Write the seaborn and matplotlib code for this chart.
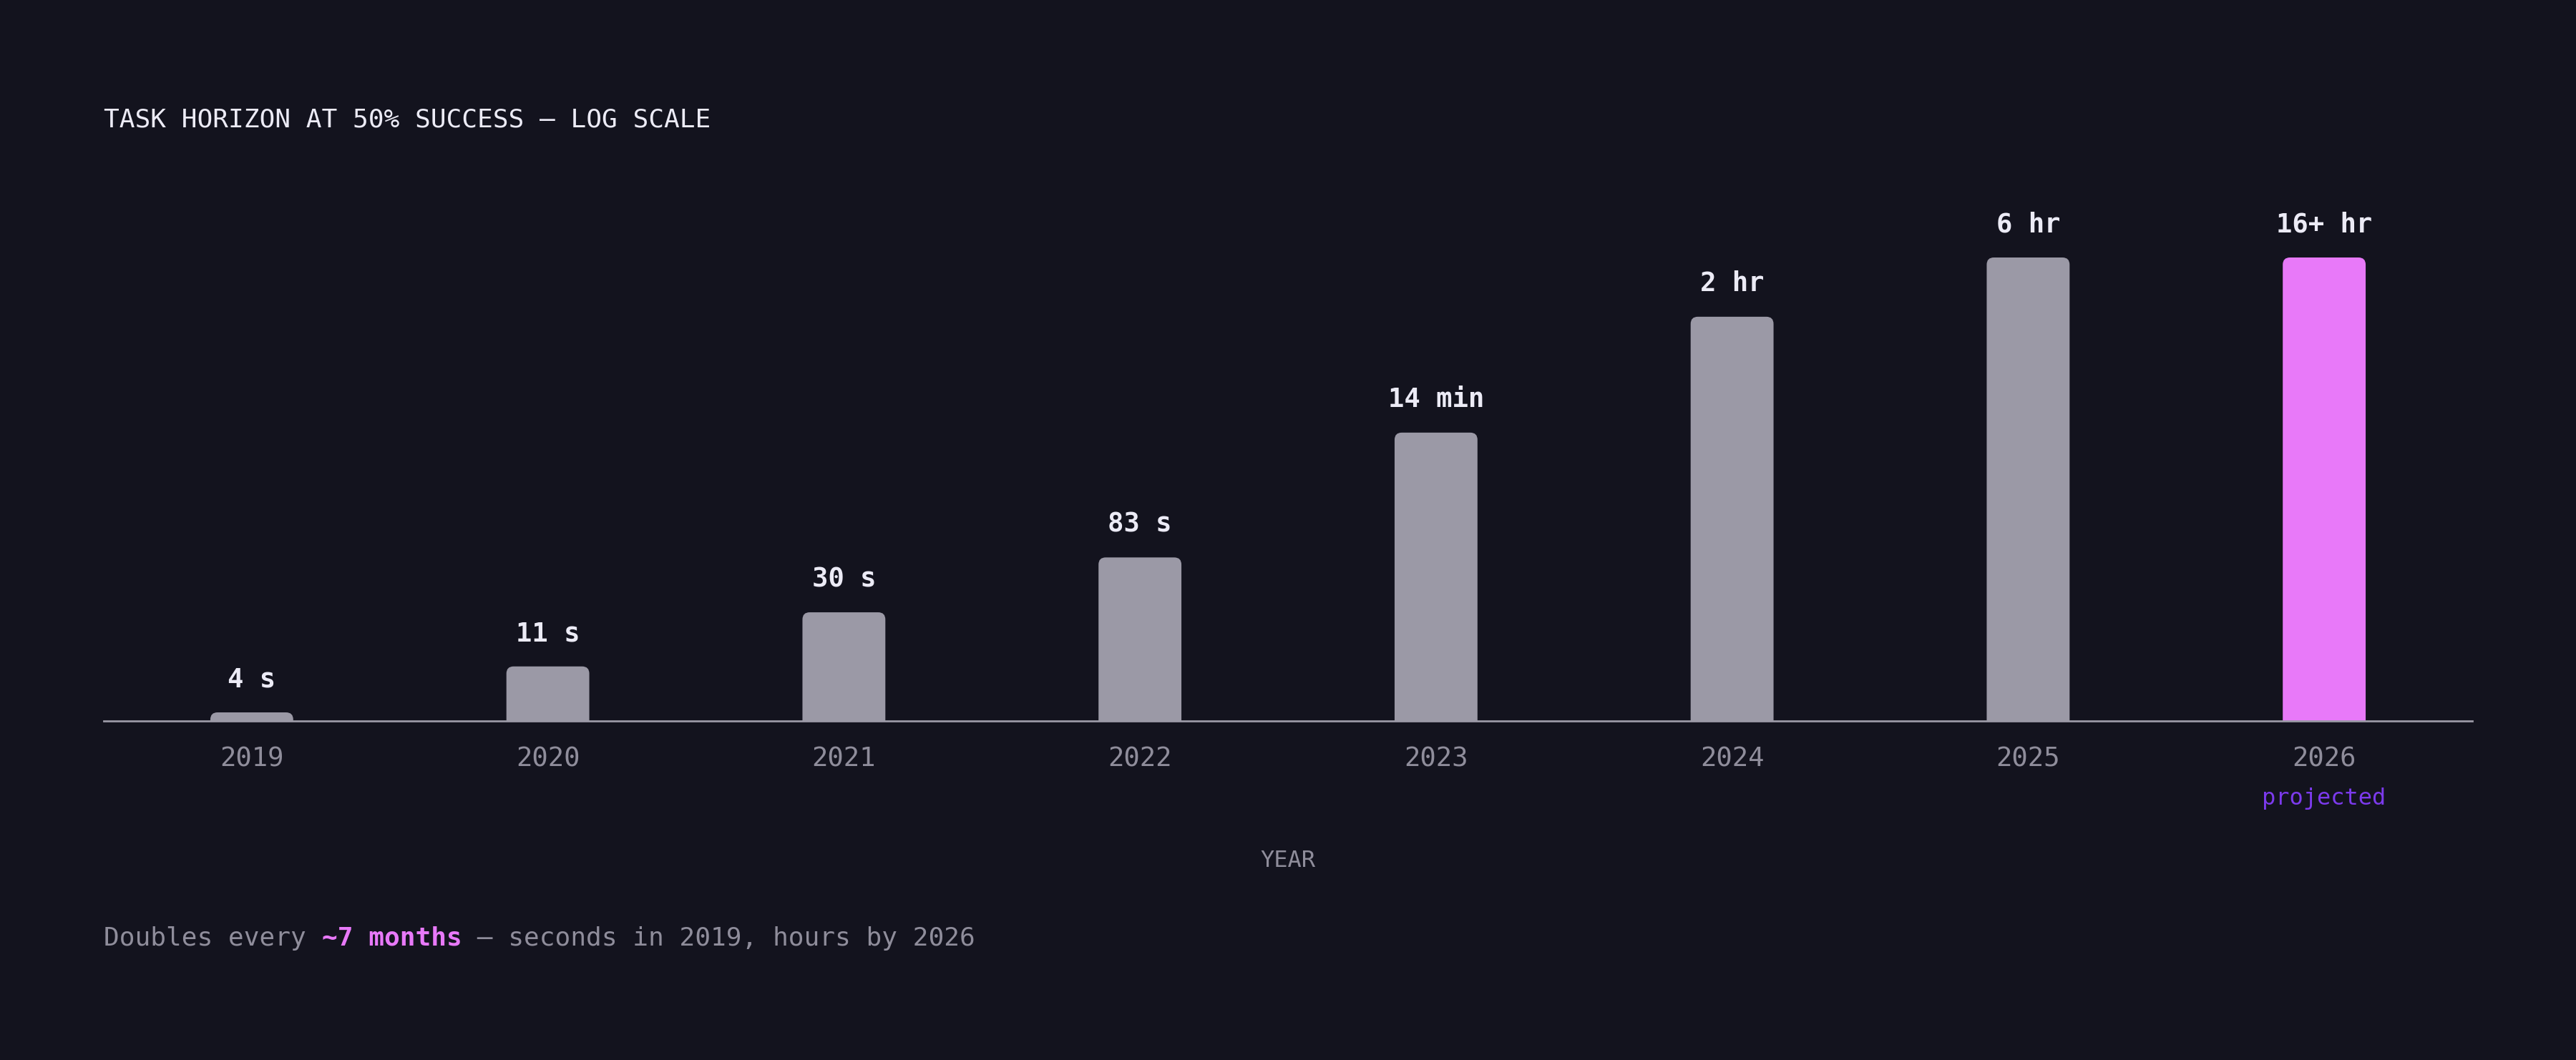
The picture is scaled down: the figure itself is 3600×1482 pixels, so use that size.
import numpy as np
import pandas as pd
import matplotlib.pyplot as plt
import seaborn as sns
from matplotlib.patches import FancyBboxPatch
from matplotlib.transforms import IdentityTransform

# dados
years = ['2019', '2020', '2021', '2022', '2023', '2024', '2025', '2026']
seconds = [4, 11, 30, 83, 840, 7200, 21600, 57600]
value_labels = ['4 s', '11 s', '30 s', '83 s', '14 min', '2 hr', '6 hr', '16+ hr']
is_projected = [False, False, False, False, False, False, False, True]

BG = '#13131e'
BAR = '#9b99a6'
PINK = '#e879f9'
VIOLET = '#7c3aed'
WHITE = '#ecebf6'
MUTED = '#8f8d9b'

# eixo log: base em 4 s, topo em 6 hr (2026 fica cortado no topo)
y_min, y_max = 4, 21600

df = pd.DataFrame({'year': years, 'seconds': seconds, 'label': value_labels,
                   'projected': is_projected})
df['shown'] = df['seconds'].clip(upper=y_max)
cores = {y: (PINK if p else BAR) for y, p in zip(df['year'], df['projected'])}

sns.set_theme(style='dark', rc={'axes.facecolor': BG, 'figure.facecolor': BG,
                                'savefig.facecolor': BG})
plt.rcParams['font.family'] = ['DejaVu Sans Mono', 'DejaVu Sans']

W, H = 3600, 1482
fig = plt.figure(figsize=(W / 200, H / 200), dpi=200)
ax = fig.add_axes([145 / W, 474 / H, 3310 / W, 648 / H])

sns.barplot(data=df, x='year', y='shown', hue='year', palette=cores,
            legend=False, width=0.28, saturation=1, ax=ax)
ax.set_yscale('log')
ax.set_ylim(y_min, y_max)
ax.set_xlim(-0.5, len(years) - 0.5)

ax.grid(False)
for lado in ['top', 'left', 'right']:
    ax.spines[lado].set_visible(False)
ax.spines['bottom'].set_color(BAR)
ax.spines['bottom'].set_linewidth(1.0)
ax.tick_params(axis='y', which='both', left=False, labelleft=False)
ax.tick_params(axis='x', length=0, pad=12.5, labelsize=13.4, labelcolor=MUTED)
ax.set_ylabel('')
ax.set_xlabel('YEAR', color=MUTED, fontsize=11.5, labelpad=39)

# barras com cantos arredondados no topo
raio = 10
altura_min = 12
barras = list(ax.patches)
for i, bar in enumerate(barras):
    x0 = bar.get_x()
    w = bar.get_width()
    px0, ptop = ax.transData.transform((x0, df['shown'][i]))
    px1 = ax.transData.transform((x0 + w, y_min))[0]
    pbot = ax.bbox.y0
    ptop = max(ptop, pbot + altura_min)
    caixa = FancyBboxPatch((px0, pbot - raio), px1 - px0, ptop - pbot + raio,
                           boxstyle=f'round,pad=0,rounding_size={raio}',
                           transform=IdentityTransform(),
                           facecolor=bar.get_facecolor(), edgecolor='none')
    ax.add_patch(caixa)
    bar.set_visible(False)
    ax.annotate(df['label'][i], xy=((px0 + px1) / 2, ptop + 46),
                xycoords='figure pixels', ha='center', va='center',
                fontsize=13.4, fontweight='bold', color=WHITE)

for i, p in enumerate(df['projected']):
    if p:
        ax.annotate('projected', xy=(i, 0), xycoords=ax.get_xaxis_transform(),
                    xytext=(0, -39), textcoords='offset points',
                    ha='center', va='center', fontsize=11.5, color=VIOLET)

fig.text(145 / W, 1 - 167 / H, 'TASK HORIZON AT 50% SUCCESS — LOG SCALE',
         ha='left', va='center', fontsize=13, color=WHITE)

y_rodape = 1 - 1322 / H
t1 = fig.text(145 / W, y_rodape, 'Doubles every ', ha='left',
              va='baseline', fontsize=13, color=MUTED)
t2 = fig.text(0, y_rodape, '~7 months', fontsize=13, fontweight='bold',
              color=PINK, va='baseline')
t3 = fig.text(0, y_rodape, ' — seconds in 2019, hours by 2026', fontsize=13,
              color=MUTED, va='baseline')
fig.canvas.draw()
r = fig.canvas.get_renderer()
bb = t1.get_window_extent(r)
t2.set_x(bb.x1 / W)
bb2 = t2.get_window_extent(r)
t3.set_x(bb2.x1 / W)

fig.savefig('out.png', dpi=200)
